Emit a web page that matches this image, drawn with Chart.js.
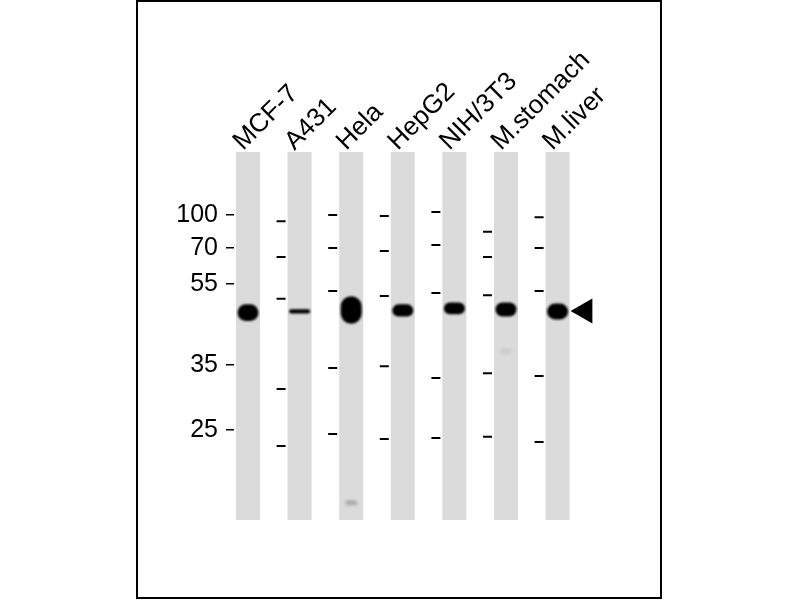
<!DOCTYPE html>
<html>
<head>
<meta charset="utf-8">
<title>Western blot</title>
<script src="https://cdn.jsdelivr.net/npm/chart.js@4.4.1/dist/chart.umd.min.js"></script>
<style>
  html, body { margin: 0; padding: 0; background: #fff; }
  #frame { position: absolute; left: 136px; top: 0; width: 522px; height: 595px; border: 2px solid #000; }
  #wrap { position: absolute; left: 0; top: 0; width: 800px; height: 600px; }
</style>
</head>
<body>
<div id="frame"></div>
<div id="wrap"><canvas id="blot" width="800" height="600"></canvas></div>
<script>
// lanes, left to right
const lanes = ['MCF-7', 'A431', 'Hela', 'HepG2', 'NIH/3T3', 'M.stomach', 'M.liver'];

// positions are relative migration: 0 = top of lane, 1 = bottom of lane
const ladderKDa = ['100', '70', '55', '35', '25'];
const ladderRf = [0.171, 0.261, 0.359, 0.579, 0.755];

// marker dashes printed beside lanes 2..7
const markersA431 = [0.188, 0.285, 0.399, 0.644, 0.799];
const markersHela = [0.171, 0.261, 0.378, 0.587, 0.766];
const markersHepG2 = [0.174, 0.269, 0.391, 0.582, 0.780];
const markersNIH3T3 = [0.163, 0.253, 0.383, 0.614, 0.777];
const markersStomach = [0.217, 0.285, 0.389, 0.601, 0.774];
const markersLiver = [0.177, 0.261, 0.378, 0.609, 0.788];

// main band of each lane (top / bottom edge)
const bandTop = [0.414, 0.427, 0.392, 0.414, 0.409, 0.409, 0.412];
const bandBottom = [0.459, 0.439, 0.467, 0.447, 0.441, 0.447, 0.455];

// faint spots
const spotLane = [2, 5];
const spotTop = [0.946, 0.533];
const spotBottom = [0.960, 0.550];
const spotAlpha = [0.22, 0.06];

const arrowRf = 0.432;

// layout (px)
const laneGap = 51.6;
const plotLeft = 234;
const firstLaneX = 248;
const plotTop = 152;
const plotBottom = 520;
const xMin = -(firstLaneX - plotLeft) / laneGap;
const xMax = 7;
const plotRight = plotLeft + (xMax - xMin) * laneGap;
const markerShift = -18.5 / laneGap;
const arrowShift = 27.5 / laneGap;

const markerLists = [[], markersA431, markersHela, markersHepG2, markersNIH3T3, markersStomach, markersLiver];
const markerPoints = [];
markerLists.forEach((list, i) => {
    list.forEach(v => markerPoints.push({ x: i + markerShift, y: v }));
});

const blurBands = {
    id: 'blurBands',
    beforeDatasetDraw(chart, args) {
        const ds = chart.data.datasets[args.index];
        if (ds.blur) {
            chart.ctx.save();
            chart.ctx.filter = 'blur(' + ds.blur + 'px)';
        }
    },
    afterDatasetDraw(chart, args) {
        const ds = chart.data.datasets[args.index];
        if (ds.blur) chart.ctx.restore();
    }
};

const family = '"Liberation Sans", Arial, sans-serif';

new Chart(document.getElementById('blot'), {
    type: 'bar',
    data: {
        datasets: [
            {
                label: 'lanes',
                data: lanes.map((_, i) => ({ x: i, y: [0, 1] })),
                backgroundColor: '#dbdbdb',
                maxBarThickness: 24,
                grouped: false,
                borderSkipped: false,
                order: 4
            },
            {
                label: 'spots',
                data: spotLane.map((l, i) => ({ x: l, y: [spotTop[i], spotBottom[i]] })),
                backgroundColor: spotAlpha.map(a => 'rgba(0,0,0,' + a + ')'),
                maxBarThickness: 12,
                borderRadius: 6,
                borderSkipped: false,
                grouped: false,
                blur: 1.5,
                order: 3
            },
            {
                label: 'bands',
                data: lanes.map((_, i) => ({ x: i, y: [bandTop[i], bandBottom[i]] })),
                backgroundColor: '#000',
                maxBarThickness: 21,
                borderRadius: 12,
                borderSkipped: false,
                grouped: false,
                blur: 1.3,
                order: 2
            },
            {
                type: 'scatter',
                label: 'markers',
                data: markerPoints,
                pointStyle: 'line',
                radius: 4.5,
                borderWidth: 2,
                borderColor: '#000',
                order: 1
            },
            {
                type: 'scatter',
                label: 'arrow',
                data: [{ x: 6 + arrowShift, y: arrowRf }],
                pointStyle: 'triangle',
                rotation: -90,
                radius: 14.5,
                backgroundColor: '#000',
                borderWidth: 0,
                order: 1
            }
        ]
    },
    options: {
        responsive: false,
        animation: false,
        events: [],
        layout: {
            padding: { left: plotLeft - 100, top: 0, right: 800 - plotRight, bottom: 600 - plotBottom }
        },
        plugins: {
            legend: { display: false },
            tooltip: { enabled: false }
        },
        scales: {
            x: {
                type: 'linear',
                position: 'top',
                min: xMin,
                max: xMax,
                offset: false,
                afterBuildTicks: scale => { scale.ticks = lanes.map((_, i) => ({ value: i })); },
                afterFit: scale => { scale.height = plotTop; },
                ticks: {
                    autoSkip: false,
                    minRotation: 45,
                    maxRotation: 45,
                    padding: -5,
                    labelOffset: 12,
                    color: '#000',
                    font: { family: family, size: 26 },
                    callback: (v, i) => lanes[i]
                },
                grid: { display: false, drawTicks: false, offset: false },
                border: { display: false }
            },
            y: {
                type: 'linear',
                reverse: true,
                min: 0,
                max: 1,
                afterBuildTicks: scale => { scale.ticks = ladderRf.map(v => ({ value: v })); },
                afterFit: scale => { scale.width = 100; },
                ticks: {
                    padding: 8,
                    color: '#000',
                    font: { family: family, size: 25 },
                    callback: (v, i) => ladderKDa[i]
                },
                grid: { drawOnChartArea: false, drawTicks: true, tickLength: 8, color: '#000', lineWidth: 1.5 },
                border: { display: false }
            }
        }
    },
    plugins: [blurBands]
});
</script>
</body>
</html>
